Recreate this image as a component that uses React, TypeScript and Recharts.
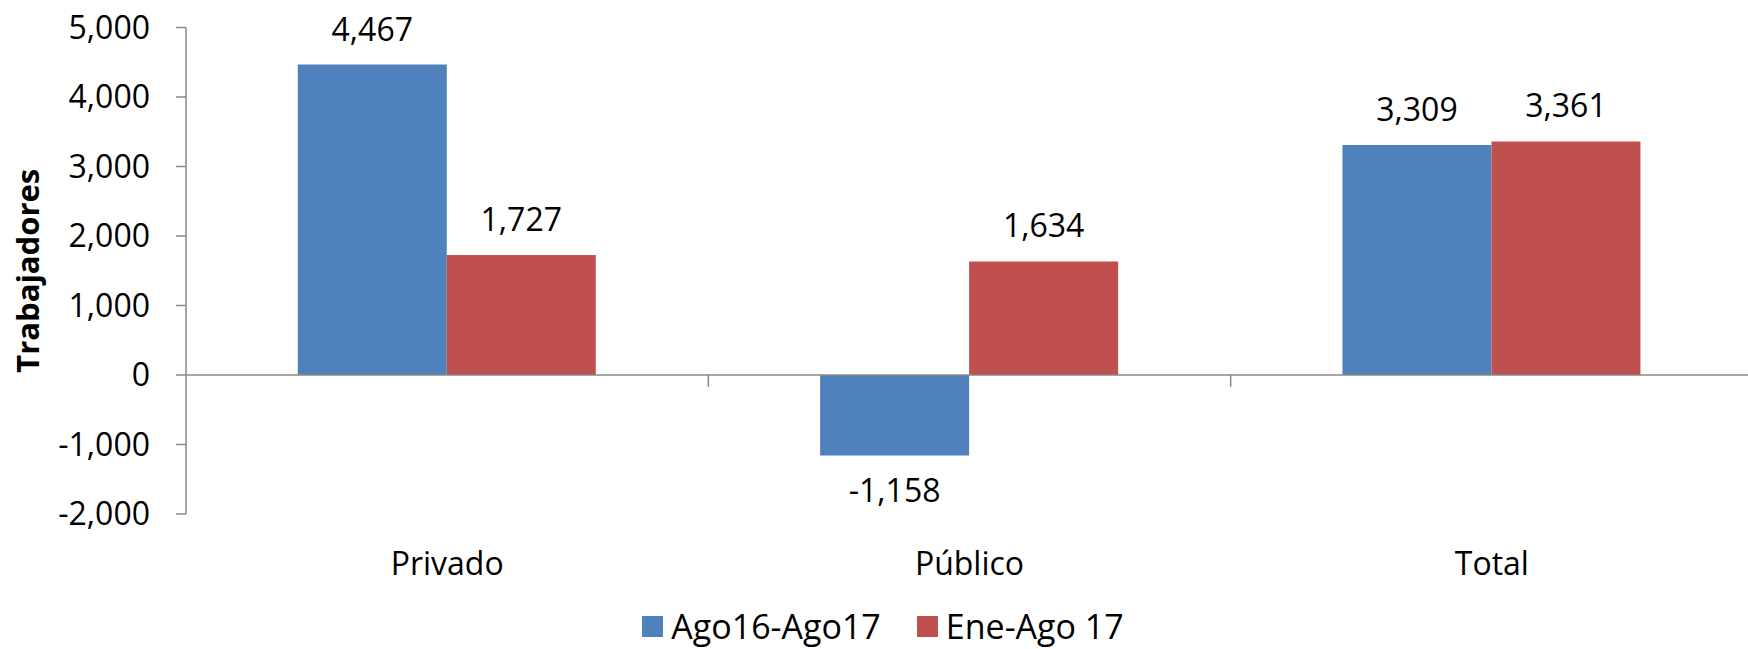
import React from 'react';
import { BarChart, Bar, XAxis, YAxis, ReferenceLine, Legend, LabelList, Label } from 'recharts';

// Variación de trabajadores por sector
const categories = ['Privado', 'Público', 'Total'];
const ago16Ago17 = [4467, -1158, 3309];
const eneAgo17 = [1727, 1634, 3361];
const yTicks = [-2000, -1000, 0, 1000, 2000, 3000, 4000, 5000];
const seriesNames = ['Ago16-Ago17', 'Ene-Ago 17'];
const seriesColors = ['#4F81BD', '#C0504D'];

const data = categories.map((name, i) => ({ name, a: ago16Ago17[i], b: eneAgo17[i] }));

const FONT = '"Open Sans", sans-serif';
const AXIS = '#888888';
const fmt = (v: number) => v.toLocaleString('en-US');

const renderValue = (props: any) => {
  const { x, y, width, height, value } = props;
  const top = Math.min(y, y + height);
  const bottom = Math.max(y, y + height);
  const cx = x + width / 2;
  const neg = value < 0;
  return (
    <text
      x={cx}
      y={neg ? bottom + 24 + 23 : top - 24}
      textAnchor="middle"
      fontFamily={FONT}
      fontSize={32}
      fill="#000"
    >
      {fmt(value)}
    </text>
  );
};

const renderYLabel = (props: any) => {
  const vb = props.viewBox || { x: 0, y: 0, width: 0, height: 0 };
  const cx = vb.x + 27;
  const cy = vb.y + vb.height / 2;
  return (
    <text
      x={cx}
      y={cy}
      transform={`rotate(-90 ${cx} ${cy})`}
      textAnchor="middle"
      dominantBaseline="central"
      fontFamily={FONT}
      fontWeight="bold"
      fontSize={31}
      fill="#000"
    >
      Trabajadores
    </text>
  );
};

const renderLegend = () => (
  <div
    style={{
      display: 'flex',
      justifyContent: 'center',
      alignItems: 'center',
      height: 36,
      fontFamily: FONT,
      fontSize: 34,
      lineHeight: '36px',
      color: '#000',
      whiteSpace: 'nowrap',
    }}
  >
    {seriesNames.map((n, i) => (
      <span key={n} style={{ display: 'flex', alignItems: 'center', marginLeft: i ? 36 : 0 }}>
        <span
          style={{ display: 'inline-block', width: 21, height: 21, background: seriesColors[i], marginRight: 8 }}
        />
        {n}
      </span>
    ))}
  </div>
);

export default function App() {
  return (
    <div
      style={{
        position: 'fixed',
        left: 0,
        top: 0,
        width: 1748,
        height: 649,
        overflow: 'hidden',
        background: '#fff',
      }}
    >
      <BarChart
        width={1760}
        height={649}
        data={data}
        margin={{ top: 27.5, right: 7, bottom: 5, left: 0 }}
        barCategoryGap="21.4%"
        barGap={0}
        style={{ fontFamily: FONT }}
      >
        <XAxis
          dataKey="name"
          axisLine={false}
          tickLine={false}
          tickSize={0}
          tickMargin={38}
          height={94}
          interval={0}
          tick={{ fill: '#000', fontSize: 32, fontFamily: FONT }}
        />
        <YAxis
          domain={[-2000, 5000]}
          ticks={yTicks}
          interval={0}
          width={186}
          tickSize={10}
          tickMargin={26}
          stroke={AXIS}
          strokeWidth={1.5}
          tickFormatter={fmt}
          tick={{ fill: '#000', fontSize: 32, fontFamily: FONT }}
        >
          <Label content={renderYLabel} />
        </YAxis>
        <ReferenceLine y={0} stroke={AXIS} strokeWidth={1.5} />
        {categories.slice(1).map((c) => (
          <ReferenceLine
            key={c}
            segment={[
              { x: c, y: 0 },
              { x: c, y: -170 },
            ]}
            position="start"
            stroke={AXIS}
            strokeWidth={1.5}
            ifOverflow="visible"
          />
        ))}
        <Legend verticalAlign="bottom" content={renderLegend} wrapperStyle={{ left: 0, width: 1766 }} />
        <Bar dataKey="a" name={seriesNames[0]} fill={seriesColors[0]} isAnimationActive={false}>
          <LabelList dataKey="a" content={renderValue} />
        </Bar>
        <Bar dataKey="b" name={seriesNames[1]} fill={seriesColors[1]} isAnimationActive={false}>
          <LabelList dataKey="b" content={renderValue} />
        </Bar>
      </BarChart>
    </div>
  );
}
